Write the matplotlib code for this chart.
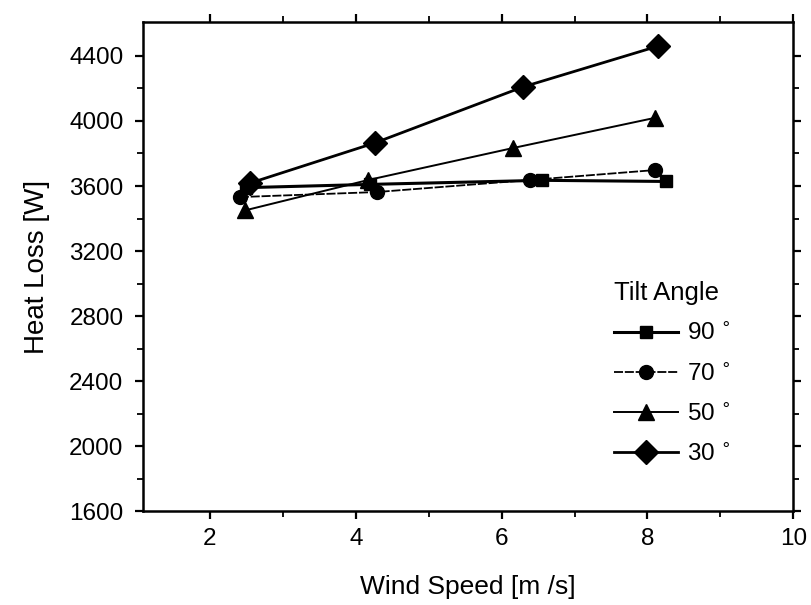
import matplotlib.pyplot as plt

plt.rcParams["font.family"] = ["Liberation Sans", "DejaVu Sans"]

# heat loss vs wind speed for each tilt angle
wind_90 = [2.5, 4.2, 6.55, 8.25]
loss_90 = [3590, 3610, 3635, 3628]
wind_70 = [2.41, 4.29, 6.39, 8.1]
loss_70 = [3532, 3563, 3637, 3698]
wind_50 = [2.48, 4.17, 6.16, 8.1]
loss_50 = [3450, 3637, 3834, 4019]
wind_30 = [2.55, 4.26, 6.29, 8.15]
loss_30 = [3618, 3865, 4209, 4461]

labels = ["90 $^{\\circ}$", "70 $^{\\circ}$", "50 $^{\\circ}$", "30 $^{\\circ}$"]
x_ticks = [2, 4, 6, 8, 10]
y_ticks = [1600, 2000, 2400, 2800, 3200, 3600, 4000, 4400]

fig = plt.figure(figsize=(8.12, 6.05), dpi=100)
ax = fig.add_axes([0.176, 0.155, 0.801, 0.809])

ax.plot(wind_90, loss_90, "-", color="black", lw=2.2, marker="s", ms=9, label=labels[0])
ax.plot(wind_70, loss_70, color="black", lw=1.3, ls=(0, (5, 1)), marker="o", ms=10, label=labels[1])
ax.plot(wind_50, loss_50, "-", color="black", lw=1.4, marker="^", ms=11, label=labels[2])
ax.plot(wind_30, loss_30, "-", color="black", lw=2.0, marker="D", ms=12, label=labels[3])

ax.set_xlim(1.08, 10)
ax.set_ylim(1600, 4610)
ax.set_xticks(x_ticks)
ax.set_yticks(y_ticks)
ax.set_xticks([3, 5, 7, 9], minor=True)
ax.set_yticks([1800, 2200, 2600, 3000, 3400, 3800, 4200], minor=True)
ax.tick_params(which="both", top=True, right=True, direction="out")
ax.tick_params(which="major", length=6, width=1.6, labelsize=17.5)
ax.tick_params(which="minor", length=4, width=1.3)
ax.tick_params(axis="y", pad=8)
ax.tick_params(axis="x", pad=6)
for s in ax.spines.values():
    s.set_linewidth(1.8)

ax.set_xlabel("Wind Speed [m /s]", fontsize=19, labelpad=18)
ax.set_ylabel("Heat Loss [W]", fontsize=20, labelpad=14)

leg = ax.legend(title="Tilt Angle", loc="upper left", bbox_to_anchor=(0.725, 0.47),
                frameon=False, fontsize=17.5, title_fontsize=18.5, handlelength=2.6,
                handletextpad=0.4, labelspacing=0.74, borderpad=0, borderaxespad=0,
                alignment="left")

fig.savefig("out.png", dpi=100)
